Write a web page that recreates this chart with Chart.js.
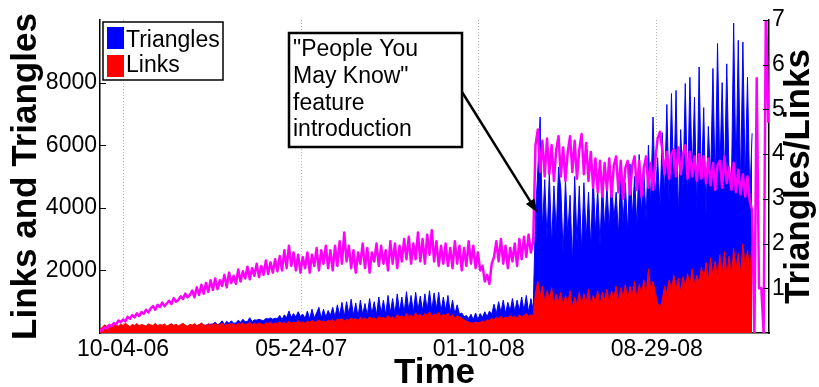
<!DOCTYPE html>
<html><head><meta charset="utf-8">
<script src="https://cdn.jsdelivr.net/npm/chart.js@4.4.1/dist/chart.umd.min.js"></script>
<style>html,body{margin:0;padding:0;background:#fff;overflow:hidden}canvas{display:block}</style>
</head><body>
<canvas id="c" width="819" height="387"></canvas>
<script>
// x axis: days relative to 10-04-06, one sample every 3 days
const startDay = -30;
const stepDays = 3;
const xTickDays = [0, 232, 463, 695];
const xTickLabels = ['10-04-06', '05-24-07', '01-10-08', '08-29-08'];
const leftTicks = [2000, 4000, 6000, 8000];
const rightTicks = [1, 2, 3, 4, 5, 6, 7];
const seriesNames = ['Triangles', 'Links', 'Triangles/Links'];

const links = [
 120,180,260,210,280,230,300,250,220,290,
 240,310,260,200,280,240,300,230,270,250,
 220,290,260,240,310,230,270,250,290,220,
 260,300,240,280,230,270,310,250,220,280,
 250,300,240,270,310,260,230,290,250,280,
 300,250,270,320,240,290,260,310,270,250,
 300,280,330,260,290,340,270,310,280,320,
 290,260,330,300,350,280,320,300,360,290,
 340,310,370,300,350,320,390,330,360,310,
 380,340,400,350,370,420,360,390,340,410,
 380,430,360,450,400,470,380,440,410,480,
 420,460,400,500,440,480,420,520,450,490,
 440,530,470,500,450,560,480,520,460,590,
 500,560,480,620,520,580,500,650,540,600,
 520,630,560,680,540,610,580,660,520,600,
 560,640,520,590,480,560,510,470,420,380,
 350,330,310,360,320,340,380,360,420,400,
 460,430,500,470,540,450,520,480,560,500,
 540,470,580,510,560,620,530,590,550,
 1300,1650,1150,1500,980,1350,1050,1450,900,1250,1000,
 1300,850,1200,950,1350,800,1150,900,1300,850,
 1250,950,1400,880,1200,1000,1350,900,1300,1050,
 1400,950,1350,1100,1500,1000,1450,1150,1550,1050,
 1500,1200,1650,1100,1550,1250,1700,1200,2050,1400,
 1650,1300,950,800,1050,
 1500,1250,1700,1350,1850,
 1400,1750,1300,1800,1450,1900,1500,2050,1550,1850,
 1600,2100,1700,2250,1650,2400,1800,2300,1750,2500,
 1850,2600,1900,2450,1800,2700,2000,2550,1900,2850,
 2100,2650,1950,2900
];

const triangles = [
 10,20,40,30,50,40,70,50,60,70,
 70,80,90,70,110,85,130,90,125,110,
 110,130,140,145,160,150,155,170,175,145,
 190,195,190,195,170,220,235,220,175,240,
 230,250,235,245,315,250,250,285,280,290,
 345,265,300,390,270,375,305,390,310,320,
 410,340,440,360,370,490,360,420,410,440,
 410,400,460,450,480,440,470,460,560,430,
 580,490,700,500,620,510,680,530,600,470,
 700,450,760,480,640,820,470,760,500,720,
 560,820,500,900,560,980,520,1000,600,1080,
 560,960,520,1050,580,940,560,1100,600,1000,
 580,1150,620,1050,580,1200,640,1100,600,1250,
 680,1150,640,1320,720,1200,660,1300,720,1180,
 700,1250,740,1350,720,1280,760,1300,680,1150,
 720,1200,660,1050,600,900,600,640,520,560,
 460,600,420,640,430,620,500,680,520,700,
 600,920,620,1000,660,1050,620,980,700,1100,
 680,1050,720,1150,700,1200,660,1100,720,
 3800,5200,6900,3300,4900,3000,5100,2800,4700,3200,5300,
 4600,2500,4900,3100,4400,2200,5000,2900,4700,2600,
 4800,3000,4500,2700,5100,3200,4600,2800,4900,3300,
 4700,3300,5000,3600,4500,3100,5200,3500,4800,3200,
 5400,3700,5000,3400,5700,3800,5200,3600,6000,4100,
 6900,4300,5600,4000,6400,
 4400,7300,4100,7650,4500,7750,3700,6500,4600,7970,
 4300,8170,5000,7530,3900,8500,4700,7200,3800,6600,
 4900,8450,4600,9250,5100,8000,4800,8600,5000,4500,
 9900,5000,9350,4700,9300,4800,8170,4300,6380
];

const ratio = [
 0.03,0.08,0.12,0.10,0.18,0.15,0.22,0.19,0.28,0.24,
 0.30,0.26,0.36,0.32,0.40,0.35,0.44,0.38,0.47,0.43,
 0.52,0.46,0.55,0.60,0.52,0.63,0.58,0.68,0.60,0.66,
 0.72,0.65,0.78,0.70,0.74,0.82,0.76,0.88,0.80,0.85,
 0.95,0.80,1.02,0.85,1.08,0.88,1.12,0.92,1.18,0.96,
 1.22,0.98,1.18,1.05,1.30,1.02,1.35,1.12,1.28,1.10,
 1.42,1.15,1.38,1.22,1.48,1.20,1.45,1.28,1.55,1.25,
 1.50,1.30,1.62,1.32,1.58,1.35,1.65,1.38,1.72,1.40,
 1.85,1.45,1.95,1.50,1.80,1.40,1.75,1.35,1.70,1.45,
 1.80,1.35,1.75,1.50,1.90,1.40,1.85,1.55,1.95,1.45,
 1.85,1.40,1.95,1.50,2.05,1.55,2.25,1.60,1.95,1.45,
 1.85,1.35,1.80,1.55,2.00,1.45,1.90,1.35,1.80,1.60,
 2.00,1.50,1.95,1.55,1.85,1.40,2.05,1.55,2.00,1.45,
 1.95,1.60,2.10,1.65,2.15,1.55,2.00,1.65,2.25,1.60,
 2.10,1.55,2.20,1.75,2.30,1.60,2.05,1.50,1.95,1.55,
 2.00,1.50,1.90,1.45,2.05,1.55,1.95,1.40,1.90,1.50,
 2.05,1.55,1.95,1.45,1.80,1.40,1.50,1.15,1.30,1.10,
 1.55,1.70,2.05,1.60,2.10,1.55,1.95,1.45,1.90,1.60,
 2.00,1.50,2.10,1.65,2.15,1.70,2.20,1.80,2.05,
 4.20,4.55,3.60,4.30,3.50,4.35,3.55,4.20,3.40,4.10,4.40,
 3.50,4.15,3.40,4.05,4.40,3.60,4.30,3.45,4.10,4.45,
 3.55,4.25,3.40,4.05,3.25,3.90,3.15,3.85,3.05,3.80,
 3.20,3.90,3.05,3.75,3.95,3.15,3.85,3.00,3.70,3.85,
 3.10,3.75,3.95,3.20,3.85,3.05,3.70,3.95,3.25,3.80,
 3.20,3.85,4.35,4.50,4.10,3.55,4.05,3.45,4.00,4.10,
 3.50,4.15,3.55,4.00,4.20,3.45,4.05,3.50,3.95,3.40,
 4.00,3.45,3.95,3.35,3.90,3.30,3.80,3.20,3.75,3.85,
 3.25,3.95,3.35,3.70,3.20,3.80,3.15,3.65,3.10,3.55,
 3.05,3.50,2.95,2.75,
 0.00,5.70,1.00,1.00,0.00,7.50,4.70
];

const annotationLines = ['"People You', 'May Know"', 'feature', 'introduction'];
const annotationTarget = { day: 539, ratio: 2.7 };

const FONT = '"Liberation Sans", Arial, Helvetica, sans-serif';
Chart.defaults.font.family = FONT;
Chart.defaults.color = '#000';

const toPoints = arr => arr.map((v, i) => ({ x: startDay + i * stepDays, y: v }));

const decor = {
  id: 'decor',
  afterDraw(chart) {
    const ctx = chart.ctx;
    const ca = chart.chartArea;
    const ys = chart.scales.y, y2 = chart.scales.y2, xs = chart.scales.x;
    ctx.save();
    // inside tick marks
    ctx.strokeStyle = '#000';
    ctx.lineWidth = 1.2;
    ctx.beginPath();
    leftTicks.forEach(v => { const p = Math.round(ys.getPixelForValue(v)) + 0.5; ctx.moveTo(ca.left, p); ctx.lineTo(ca.left + 6, p); });
    rightTicks.forEach(v => { const p = Math.round(y2.getPixelForValue(v)) + 0.5; ctx.moveTo(ca.right, p); ctx.lineTo(ca.right - 6, p); });
    ctx.stroke();

    // right axis title (reads bottom to top)
    ctx.save();
    ctx.translate(ca.right + 30, (ca.top + ca.bottom) / 2);
    ctx.rotate(-Math.PI / 2);
    ctx.font = 'bold 35px ' + FONT;
    ctx.textAlign = 'center';
    ctx.textBaseline = 'middle';
    ctx.fillStyle = '#000';
    ctx.fillText(seriesNames[2], 0, 0);
    ctx.restore();

    // legend box
    const ds = chart.data.datasets;
    const lx = ca.left + 3, ly = ca.top + 2, lw = 120, lh = 58;
    ctx.fillStyle = '#fff';
    ctx.fillRect(lx, ly, lw, lh);
    ctx.lineWidth = 1.5;
    ctx.strokeStyle = '#000';
    ctx.strokeRect(lx, ly, lw, lh);
    const items = [ds[2], ds[1]];
    ctx.font = '23px ' + FONT;
    ctx.textAlign = 'left';
    ctx.textBaseline = 'alphabetic';
    items.forEach((d, k) => {
      ctx.fillStyle = d.backgroundColor;
      ctx.fillRect(lx + 4, ly + 5 + k * 28, 17, 22);
      ctx.fillStyle = '#000';
      ctx.fillText(d.label, lx + 23, ly + 25 + k * 25);
    });

    // annotation box
    const bx = 289, by = 33, bw = 173, bh = 114;
    ctx.fillStyle = '#fff';
    ctx.fillRect(bx, by, bw, bh);
    ctx.lineWidth = 2.5;
    ctx.strokeStyle = '#000';
    ctx.strokeRect(bx, by, bw, bh);
    ctx.fillStyle = '#000';
    ctx.font = '23px ' + FONT;
    annotationLines.forEach((t, k) => ctx.fillText(t, bx + 4, by + 23 + k * 26.8));

    // arrow to the jump
    const sx = bx + bw, sy = by + 59;
    const tx = xs.getPixelForValue(annotationTarget.day);
    const ty = y2.getPixelForValue(annotationTarget.ratio);
    const ang = Math.atan2(ty - sy, tx - sx);
    const hl = 13, hw = 5;
    ctx.beginPath();
    ctx.moveTo(sx, sy);
    ctx.lineTo(tx - Math.cos(ang) * hl * 0.8, ty - Math.sin(ang) * hl * 0.8);
    ctx.stroke();
    ctx.beginPath();
    ctx.moveTo(tx, ty);
    ctx.lineTo(tx - Math.cos(ang) * hl - Math.sin(ang) * hw, ty - Math.sin(ang) * hl + Math.cos(ang) * hw);
    ctx.lineTo(tx - Math.cos(ang) * hl + Math.sin(ang) * hw, ty - Math.sin(ang) * hl - Math.cos(ang) * hw);
    ctx.closePath();
    ctx.fill();
    ctx.restore();
  }
};

new Chart(document.getElementById('c'), {
  type: 'line',
  data: {
    datasets: [
      { label: seriesNames[2], data: toPoints(ratio), yAxisID: 'y2', borderColor: '#ff00ff', borderWidth: 2.5,
        pointRadius: 0, fill: false, tension: 0, order: 0, borderJoinStyle: 'round' },
      { label: seriesNames[1], data: toPoints(links), yAxisID: 'y', borderColor: '#ff0000', backgroundColor: '#ff0000',
        borderWidth: 1, pointRadius: 0, fill: 'origin', tension: 0, order: 1 },
      { label: seriesNames[0], data: toPoints(triangles), yAxisID: 'y', borderColor: '#0000ff', backgroundColor: '#0000ff',
        borderWidth: 1, pointRadius: 0, fill: 'origin', tension: 0, order: 2 }
    ]
  },
  options: {
    responsive: false,
    animation: false,
    layout: { padding: { top: 20, left: 0, right: 0, bottom: 0 } },
    plugins: { legend: { display: false }, tooltip: { enabled: false } },
    scales: {
      x: {
        type: 'linear', min: -30, max: 841,
        afterFit(s) { s.height = 54; },
        afterBuildTicks(s) { s.ticks = xTickDays.map(v => ({ value: v })); },
        ticks: { callback: (v, i) => xTickLabels[i], font: { size: 23 }, color: '#000', maxRotation: 0, autoSkip: false, padding: 3 },
        grid: { display: true, drawTicks: false, color: '#b4b4b4', lineWidth: 1 },
        border: { display: true, color: '#000', width: 1.5, dash: [1, 2] },
        title: { display: true, text: 'Time', color: '#000', font: { size: 35, weight: 'bold', lineHeight: 0.8 }, padding: { top: 0, bottom: 0 } }
      },
      y: {
        type: 'linear', position: 'left', min: 0, max: 10000,
        afterFit(s) { s.width = 100; },
        afterBuildTicks(s) { s.ticks = leftTicks.map(v => ({ value: v })); },
        ticks: { callback: v => String(v), font: { size: 23 }, color: '#000', padding: 3 },
        grid: { display: false, drawTicks: false },
        border: { display: true, color: '#000', width: 1.5 },
        title: { display: true, text: 'Links and Triangles', color: '#000', font: { size: 35, weight: 'bold', lineHeight: 0.8 }, padding: { top: 12, bottom: 0 } }
      },
      y2: {
        type: 'linear', position: 'right', min: 0, max: 7,
        afterFit(s) { s.width = 50; },
        afterBuildTicks(s) { s.ticks = rightTicks.map(v => ({ value: v })); },
        ticks: { callback: v => String(v), font: { size: 23 }, color: '#000', padding: 3 },
        grid: { display: false, drawTicks: false },
        border: { display: true, color: '#000', width: 1.5 }
      }
    }
  },
  plugins: [decor]
});
</script>
</body></html>
